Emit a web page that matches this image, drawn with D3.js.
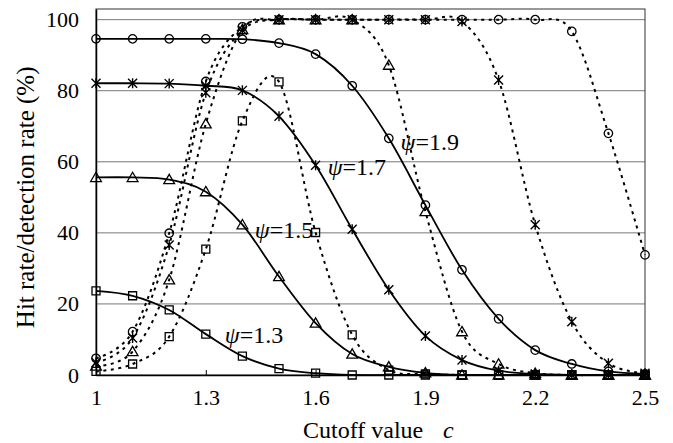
<!DOCTYPE html>
<html>
<head>
<meta charset="utf-8">
<script src="https://cdn.jsdelivr.net/npm/d3@7"></script>
<style>
  body { margin: 0; background: #fff; }
  text { font-family: "Liberation Serif", "Times New Roman", serif; fill: #000; }
</style>
</head>
<body>
<svg width="673" height="443"></svg>
<script>
// cutoff values c on the x axis
const cutoff = [1.0, 1.1, 1.2, 1.3, 1.4, 1.5, 1.6, 1.7, 1.8, 1.9, 2.0, 2.1, 2.2, 2.3, 2.4, 2.5];
const xTicks = [1, 1.3, 1.6, 1.9, 2.2, 2.5];
const yTicks = [0, 20, 40, 60, 80, 100];

// hit rate (solid) per psi
const hit13 = [23.7, 22.3, 18.3, 11.5, 5.3, 1.8, 0.5, 0, 0, 0, 0, 0, 0, 0, 0, 0];
const hit15 = [55.6, 55.6, 55, 51.6, 42.3, 27.7, 14.6, 5.9, 2.3, 0.6, 0, 0, 0, 0, 0, 0];
const hit17 = [82.1, 82.1, 82, 81.4, 80.1, 72.8, 59, 41, 24, 11, 4.2, 1.2, 0.3, 0, 0, 0];
const hit19 = [94.6, 94.6, 94.6, 94.6, 94.5, 93.4, 90.3, 81.4, 66.6, 47.8, 29.6, 15.8, 7, 3.1, 1, 0.3];

// detection rate (dotted) per psi
const det13 = [1, 3.1, 10.8, 35.4, 71.5, 82.5, 40.1, 11.3, 1.4, 0.3, 0, 0, 0, 0, 0, 0];
const det15 = [2.5, 6.6, 26.8, 70.7, 97.2, 100, 100, 100, 87.2, 46, 12.2, 3.1, 0.5, 0, 0, 0];
const det17 = [3.5, 10.4, 36.6, 79.4, 97, 100, 100, 100, 100, 100, 99.5, 83, 42.3, 15, 3.3, 0.5];
const det19 = [4.7, 12.2, 39.9, 82.6, 98, 100, 100, 100, 100, 100, 100, 100, 100, 96.7, 68, 33.8];

const psiLabels = ["1.3", "1.5", "1.7", "1.9"];
// label anchors [c, value]
const labelPos = [[1.352, 9], [1.434, 38.6], [1.633, 56.3], [1.832, 63.4]];

const svg = d3.select("svg");
const m = { left: 96, right: 28, top: 9, bottom: 68 };
const W = 673, H = 443;

const x = d3.scaleLinear().domain([1, 2.5]).range([m.left, W - m.right]);
const y = d3.scaleLinear().domain([0, 103]).range([H - m.bottom, m.top]);

// grid
svg.append("g")
  .selectAll("line")
  .data(yTicks.filter(d => d > 0))
  .join("line")
  .attr("x1", x(1)).attr("x2", x(2.5))
  .attr("y1", d => y(d)).attr("y2", d => y(d))
  .attr("stroke", "#777").attr("stroke-width", 1);

// frame
svg.append("rect")
  .attr("x", x(1)).attr("y", y(103))
  .attr("width", x(2.5) - x(1)).attr("height", y(0) - y(103))
  .attr("fill", "none").attr("stroke", "#333").attr("stroke-width", 1);

// axes
const xAxis = svg.append("g")
  .attr("transform", `translate(0,${y(0)})`)
  .call(d3.axisBottom(x).tickValues(xTicks).tickFormat(d3.format("")).tickSizeInner(-5).tickSizeOuter(0).tickPadding(14));
const yAxis = svg.append("g")
  .attr("transform", `translate(${x(1)},0)`)
  .call(d3.axisLeft(y).tickValues(yTicks).tickSize(0).tickPadding(17));

[xAxis, yAxis].forEach(g => {
  g.selectAll("text").style("font-family", '"Liberation Serif", serif').style("font-size", "22px").attr("fill", "#000");
  g.select(".domain").attr("stroke", "#000").attr("stroke-width", 1.5);
  g.selectAll(".tick line").attr("stroke", "#000");
});
xAxis.selectAll("text").attr("dy", "0.72em");

// axis titles
svg.append("text")
  .attr("transform", `translate(34,${(y(0) + y(100)) / 2}) rotate(-90)`)
  .attr("text-anchor", "middle")
  .style("font-size", "25px")
  .text("Hit rate/detection rate (%)");

svg.append("text")
  .attr("x", 303).attr("y", 438)
  .style("font-size", "24px")
  .text("Cutoff value");
svg.append("text")
  .attr("x", 443).attr("y", 438)
  .style("font-size", "24px").style("font-style", "italic")
  .text("c");

// marker symbols
const shapes = [d3.symbolSquare, d3.symbolTriangle, null, d3.symbolCircle];
const sizes = [64, 50, 0, 56];

function drawMarkers(vals, k) {
  const g = svg.append("g");
  if (shapes[k]) {
    g.selectAll("path")
      .data(vals)
      .join("path")
      .attr("transform", (d, i) => `translate(${x(cutoff[i])},${y(d) + (k === 1 ? 1 : 0)})`)
      .attr("d", d3.symbol(shapes[k], sizes[k]))
      .attr("fill", "none").attr("stroke", "#000").attr("stroke-width", 1.3);
  } else {
    // asterisk: x with vertical bar
    g.selectAll("path")
      .data(vals)
      .join("path")
      .attr("transform", (d, i) => `translate(${x(cutoff[i])},${y(d)})`)
      .attr("d", "M-4.5,-4.5L4.5,4.5M-4.5,4.5L4.5,-4.5M0,-5L0,5")
      .attr("fill", "none").attr("stroke", "#000").attr("stroke-width", 1.4);
  }
}

const line = d3.line()
  .x((d, i) => x(cutoff[i]))
  .y(d => y(d))
  .curve(d3.curveCardinal.tension(0));

const dets = [det13, det15, det17, det19];
const hits = [hit13, hit15, hit17, hit19];

dets.forEach((vals, k) => {
  svg.append("path")
    .datum(vals)
    .attr("d", line)
    .attr("fill", "none").attr("stroke", "#000")
    .attr("stroke-width", 2).attr("stroke-dasharray", "3,4.5");
  drawMarkers(vals, k);
});

hits.forEach((vals, k) => {
  svg.append("path")
    .datum(vals)
    .attr("d", line)
    .attr("fill", "none").attr("stroke", "#000")
    .attr("stroke-width", 1.8);
  drawMarkers(vals, k);
});

// psi labels
psiLabels.forEach((lab, k) => {
  const t = svg.append("text")
    .attr("x", x(labelPos[k][0])).attr("y", y(labelPos[k][1]))
    .style("font-size", "24px");
  t.append("tspan").style("font-style", "italic").text("ψ");
  t.append("tspan").text("=" + lab);
});
</script>
</body>
</html>
